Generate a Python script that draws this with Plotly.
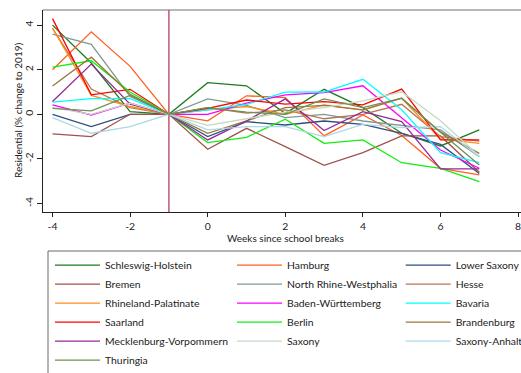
import plotly.graph_objects as go

# Weeks relative to the school break (week -1 is the reference week)
weeks = [-4, -3, -2, -1, 0, 1, 2, 3, 4, 5, 6, 7]
break_week = -1

# Residential mobility, % change relative to 2019, per federal state
schleswig_holstein = [4.00, 2.30, 0.12, 0, 1.42, 1.28, 0.04, 1.12, 0.30, -0.85, -1.42, -0.70]
hamburg = [2.00, 3.70, 2.15, 0, -0.29, 0.83, 0.75, -0.97, -0.03, -0.95, -2.42, -2.72]
lower_saxony = [0.00, -0.55, 0.00, 0, -1.00, -0.33, -0.48, -0.30, -0.45, -0.85, -1.35, -2.65]
bremen = [-0.88, -1.00, 0.00, 0, -1.57, -0.63, -1.45, -2.29, -1.72, -0.97, -0.97, -2.60]
north_rhine_westphalia = [3.60, 3.14, 0.80, 0, 0.69, 0.40, -0.15, 0.00, -0.30, -0.50, -0.70, -1.90]
hesse = [3.85, 1.13, 0.30, 0, 0.30, 0.05, 0.20, -0.20, 0.00, 0.45, -1.00, -1.20]
rhineland_palatinate = [3.87, 0.85, 0.35, 0, 0.20, 0.35, 0.00, 0.42, 0.19, 0.72, -1.10, -1.30]
baden_wuerttemberg = [0.42, -0.03, 0.50, 0, 0.00, 0.50, 0.87, 0.97, 1.28, -0.18, -1.60, -2.42]
bavaria = [0.55, 0.70, 0.70, 0, 0.20, 0.45, 0.99, 1.00, 1.57, 0.20, -1.72, -2.17]
saarland = [4.29, 0.87, 1.12, 0, 0.27, 0.64, 0.46, 0.57, 0.42, 1.13, -1.15, -1.15]
berlin = [2.12, 2.40, 1.00, 0, -1.27, -1.03, -0.22, -1.30, -1.15, -2.17, -2.42, -3.02]
brandenburg = [1.27, 2.56, 0.90, 0, -0.85, -0.30, 0.30, 0.40, 0.20, 0.72, -0.80, -1.75]
mecklenburg_vorpommern = [0.57, 2.25, 0.45, 0, -1.15, -0.30, 0.69, -0.73, 0.12, -0.33, -2.45, -2.45]
saxony = [0.30, 0.00, 0.50, 0, -0.50, -0.20, 0.10, 0.30, 0.60, 1.01, -0.29, -1.87]
saxony_anhalt = [-0.15, -0.85, -0.55, 0, -0.70, -0.55, -0.55, -1.00, -0.45, -0.60, -0.55, -1.90]
thuringia = [0.27, 0.15, 0.85, 0, 0.30, 0.10, 0.00, 0.69, 0.30, 0.72, -0.80, -2.27]

state_names = [
    "Schleswig-Holstein", "Hamburg", "Lower Saxony",
    "Bremen", "North Rhine-Westphalia", "Hesse",
    "Rhineland-Palatinate", "Baden-Württemberg", "Bavaria",
    "Saarland", "Berlin", "Brandenburg",
    "Mecklenburg-Vorpommern", "Saxony", "Saxony-Anhalt",
    "Thuringia",
]
state_values = [
    schleswig_holstein, hamburg, lower_saxony,
    bremen, north_rhine_westphalia, hesse,
    rhineland_palatinate, baden_wuerttemberg, bavaria,
    saarland, berlin, brandenburg,
    mecklenburg_vorpommern, saxony, saxony_anhalt,
    thuringia,
]
state_colors = [
    "#1e7b1e", "#ff5f1f", "#2b4f7e",
    "#a0504f", "#7f9a94", "#b8754f",
    "#ff8c1a", "#ff00ff", "#00ffff",
    "#ff0000", "#11ee11", "#98793a",
    "#962896", "#c5d9c5", "#add8e6",
    "#6f8f55",
]

x_ticks = [-4, -2, 0, 2, 4, 6, 8]
y_ticks = [-4, -2, 0, 2, 4]

x_title = "Weeks since school breaks"
y_title = "Residential (% change to 2019)"

FONT = "Lato, 'Open Sans', sans-serif"
TXT = "#222"
W, H = 521, 373
L, R, T, B = 43, 0, 10, 161
ph = H - T - B
pw = W - L - R

fig = go.Figure()
legend_ids = ["legend", "legend2", "legend3"]
for i, (name, vals, col) in enumerate(zip(state_names, state_values, state_colors)):
    fig.add_trace(go.Scatter(
        x=weeks, y=vals, name=name, mode="lines",
        line=dict(color=col, width=1.3),
        legend=legend_ids[i % 3],
        hoverinfo="skip",
    ))

# vertical marker at the reference week
fig.add_shape(type="line", xref="x", yref="paper",
              x0=break_week, x1=break_week, y0=0, y1=1,
              line=dict(color="#c24a68", width=1.4), layer="below")

# top frame line of the plot region
fig.add_shape(type="line", xref="paper", yref="paper",
              x0=0, x1=1.05, y0=1, y1=1,
              line=dict(color="#707070", width=1))

# legend frame
fig.add_shape(type="rect", xref="paper", yref="paper",
              x0=(48 - L) / pw, x1=1.2,
              y0=(H - B - 251) / ph, y1=(H - B - 400) / ph,
              line=dict(color="#6a6a6a", width=1), fillcolor="rgba(0,0,0,0)")

# axis titles
fig.add_annotation(text=x_title, xref="paper", yref="paper",
                   x=(285.5 - L) / pw, y=(H - B - 238.5) / ph,
                   xanchor="center", yanchor="middle", showarrow=False,
                   font=dict(family=FONT, size=10, color=TXT))
fig.add_annotation(text=y_title, xref="paper", yref="paper",
                   x=(18 - L) / pw, y=(H - B - 111) / ph, textangle=-90,
                   xanchor="center", yanchor="middle", showarrow=False,
                   font=dict(family=FONT, size=10, color=TXT))

legend_common = dict(
    orientation="v", xref="container", yref="container",
    xanchor="left", yanchor="top",
    font=dict(family=FONT, size=10.4, color=TXT),
    bgcolor="rgba(0,0,0,0)", borderwidth=0,
    tracegroupgap=0, itemwidth=45,
)
col_x = [50, 232, 400.7]
legend_top = 250.7
fig.update_layout(
    legend=dict(x=col_x[0] / W, y=1 - legend_top / H, **legend_common),
    legend2=dict(x=col_x[1] / W, y=1 - legend_top / H, **legend_common),
    legend3=dict(x=col_x[2] / W, y=1 - legend_top / H, **legend_common),
)

fig.update_layout(
    width=W, height=H,
    margin=dict(l=L, r=R, t=T, b=B, pad=0, autoexpand=False),
    paper_bgcolor="white", plot_bgcolor="white",
    font=dict(family=FONT, size=10, color=TXT),
    showlegend=True,
    xaxis=dict(
        range=[-4.245, 8.075], tickvals=x_ticks,
        ticktext=[str(v) for v in x_ticks],
        showgrid=False, zeroline=False,
        showline=True, linecolor=TXT, linewidth=1.2,
        ticks="outside", ticklen=4, tickcolor=TXT,
        tickfont=dict(family=FONT, size=10.4, color=TXT),
        ticklabeloverflow="allow",
        automargin=False,
    ),
    yaxis=dict(
        range=[-4.381, 4.677], tickvals=y_ticks,
        ticktext=[str(v) for v in y_ticks],
        showgrid=False, zeroline=False,
        showline=True, linecolor=TXT, linewidth=1.2,
        ticks="outside", ticklen=5, tickcolor=TXT, tickangle=-90,
        tickfont=dict(family=FONT, size=10.4, color=TXT),
        automargin=False,
    ),
)

fig.write_html("out.html")
